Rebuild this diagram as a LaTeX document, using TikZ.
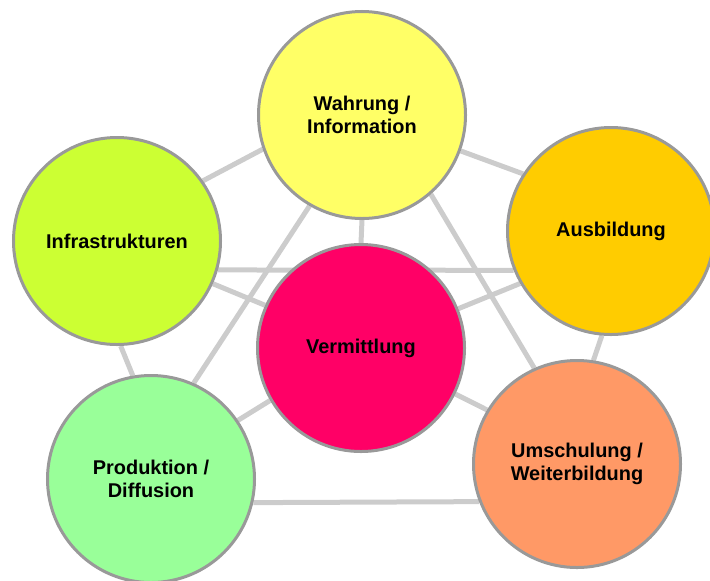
\documentclass[tikz,border=0pt]{standalone}
\usepackage{fontspec}
\setmainfont{Liberation Sans}
\usepackage{tikz}
\usetikzlibrary{calc,positioning,backgrounds}
\definecolor{colorwi}{HTML}{FFFF66}
\definecolor{colorif}{HTML}{CCFF33}
\definecolor{colorab}{HTML}{FFCC00}
\definecolor{colorvm}{HTML}{FF0066}
\definecolor{colorpd}{HTML}{99FF99}
\definecolor{colorwb}{HTML}{FF9966}
\definecolor{colorrim}{HTML}{999999}
\definecolor{colorlink}{HTML}{CCCCCC}
\tikzset{
  topic/.style={circle, draw=colorrim, line width=0.09cm, minimum size=6.21cm,
    inner sep=0pt, align=center, font=\bfseries\fontsize{17}{19.5}\selectfont},
  edgelink/.style={colorlink, line width=0.15cm}
}

\begin{document}
\begin{tikzpicture}[x=0.03cm, y=-0.03cm]
\useasboundingbox (0,0) rectangle (710,580);
\node[topic, fill=colorwi] (wi) at (362,115) {Wahrung /\\Information};
\node[topic, fill=colorif] (if) at (117,241) {Infrastrukturen};
\node[topic, fill=colorab] (ab) at (611,231) {Ausbildung};
\node[topic, fill=colorvm] (vm) at (361,348) {Vermittlung};
\node[topic, fill=colorpd] (pd) at (151,479) {Produktion /\\Diffusion};
\node[topic, fill=colorwb] (wb) at (577,464) {Umschulung /\\Weiterbildung};
\begin{scope}[on background layer]
% outer ring
\draw[edgelink] (if.35.6) -- (wi.-161);
\draw[edgelink] (wi.-20.3) -- (ab.147.8);
\draw[edgelink] (ab.-95.9) -- (wb.81.3);
\draw[edgelink] (pd.-13.2) -- (wb.201.8);
\draw[edgelink] (if.-88.4) -- (pd.100.2);
% crossing lines
\draw[edgelink] (wi.-120.6) -- (pd.66.7);
\draw[edgelink] (wi.-49.9) -- (wb.114.4);
\draw[edgelink] (if.-16) -- (ab.-158.2);
% to the middle
\draw[edgelink] (wi.-90) -- (vm.90);
\draw[edgelink] (if.-24.5) -- (vm.156.3);
\draw[edgelink] (ab.-150.1) -- (vm.22);
\draw[edgelink] (pd.34.9) -- (vm.210.1);
\draw[edgelink] (vm.-26.3) -- (wb.149.6);
\end{scope}
\end{tikzpicture}
\end{document}
